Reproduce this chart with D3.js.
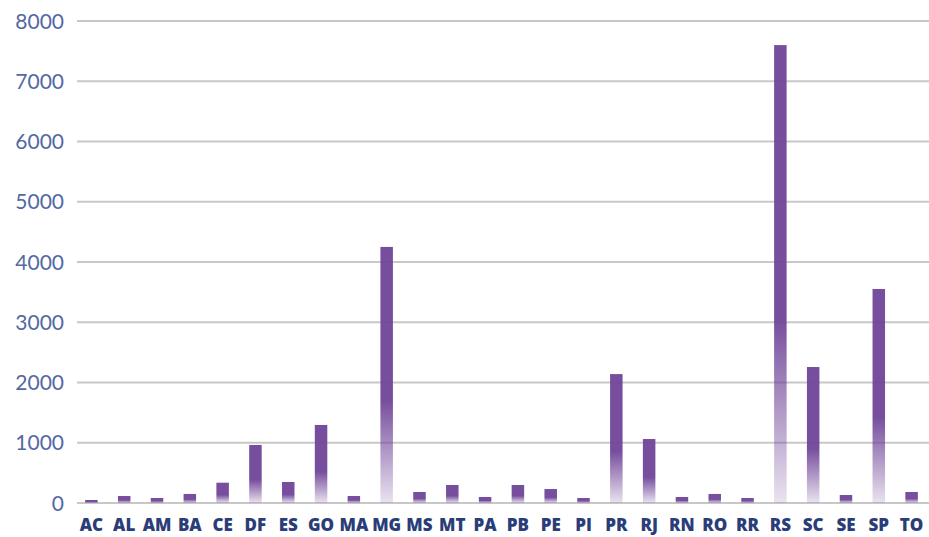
<!DOCTYPE html>
<html>
<head>
<meta charset="utf-8">
<script src="https://cdn.jsdelivr.net/npm/d3@7"></script>
<style>
  body { margin: 0; background: #fff; }
  .ylab { font-family: Lato, 'Open Sans', sans-serif; font-size: 21px; fill: #5468a3; }
  .xlab { font-family: 'Open Sans', Lato, sans-serif; font-weight: 800; font-size: 17px; fill: #2a3d78; }
</style>
</head>
<body>
<div id="chart"></div>
<script>
const states = ['AC', 'AL', 'AM', 'BA', 'CE', 'DF', 'ES', 'GO', 'MA', 'MG', 'MS', 'MT', 'PA',
  'PB', 'PE', 'PI', 'PR', 'RJ', 'RN', 'RO', 'RR', 'RS', 'SC', 'SE', 'SP', 'TO']
const values = [50, 116, 83, 150, 337, 963, 349, 1295, 116, 4250, 183, 299, 100,
  299, 232, 83, 2140, 1062, 100, 150, 83, 7600, 2257, 133, 3552, 183]
const yTicks = [0, 1000, 2000, 3000, 4000, 5000, 6000, 7000, 8000]

const width = 929
const height = 537
const svg = d3.select('#chart').append('svg')
  .attr('width', width)
  .attr('height', height)

// gradient of the bars: solid at top, fading at the base
const defs = svg.append('defs')
const grad = defs.append('linearGradient')
  .attr('id', 'barGrad')
  .attr('x1', 0).attr('y1', 0).attr('x2', 0).attr('y2', 1)
grad.append('stop').attr('offset', '0%').attr('stop-color', '#704599').attr('stop-opacity', 0.95)
grad.append('stop').attr('offset', '60%').attr('stop-color', '#704599').attr('stop-opacity', 0.95)
grad.append('stop').attr('offset', '100%').attr('stop-color', '#704599').attr('stop-opacity', 0.15)

const x = d3.scaleBand().domain(states).range([75, 928])
const y = d3.scaleLinear().domain([0, 8000]).range([503, 21])

// gridlines
svg.append('g').selectAll('line')
  .data(yTicks)
  .enter()
  .append('line')
  .attr('x1', 77)
  .attr('x2', width)
  .attr('y1', d => y(d))
  .attr('y2', d => y(d))
  .attr('stroke', '#c8c8c8')
  .attr('stroke-width', 2)

svg.append('g').selectAll('text')
  .data(yTicks)
  .enter()
  .append('text')
  .attr('class', 'ylab')
  .attr('x', 64)
  .attr('y', d => y(d))
  .attr('dy', '0.36em')
  .attr('text-anchor', 'end')
  .text(d => d)

// bars
const barW = 12.5
svg.append('g').selectAll('rect')
  .data(states)
  .enter()
  .append('rect')
  .attr('x', d => x(d) + x.bandwidth() / 2 - barW / 2)
  .attr('width', barW)
  .attr('y', (d, i) => y(values[i]))
  .attr('height', (d, i) => y(0) - y(values[i]))
  .attr('fill', 'url(#barGrad)')

// category labels
svg.append('g').selectAll('text')
  .data(states)
  .enter()
  .append('text')
  .attr('class', 'xlab')
  .attr('x', d => x(d) + x.bandwidth() / 2)
  .attr('y', 531)
  .attr('text-anchor', 'middle')
  .text(d => d)
</script>
</body>
</html>
